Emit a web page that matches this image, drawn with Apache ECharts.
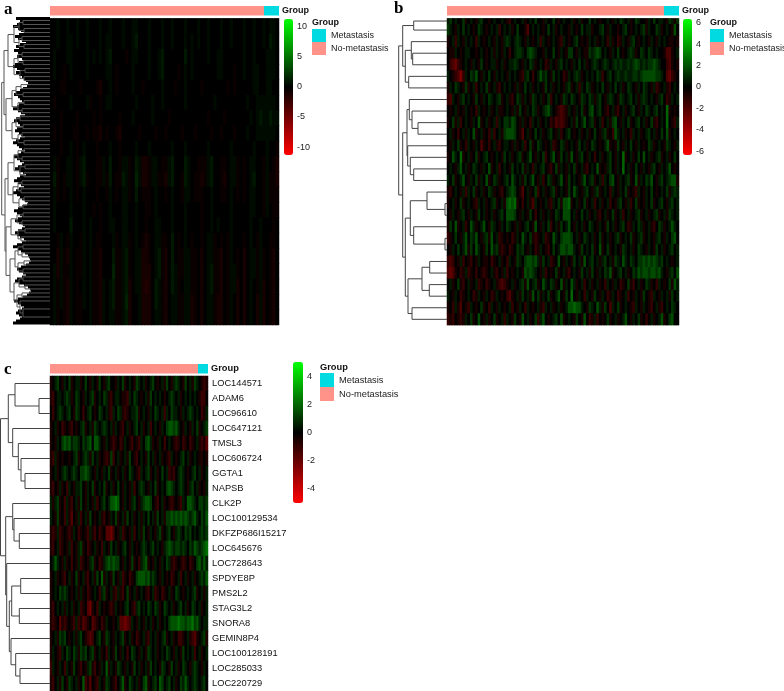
<!DOCTYPE html>
<html><head><meta charset="utf-8">
<style>html,body{margin:0;padding:0;background:#fff}#c{width:784px;height:691px}</style>
<script src="https://cdn.jsdelivr.net/npm/echarts@6/dist/echarts.min.js"></script>
</head><body><div id="c"></div>
<script>
// ---------- sample groups ----------
const groupNames=['Metastasis','No-metastasis'];
const groupColors=['#00DAE0','#FF9289'];
const groupCountsA=[15,214];
const groupCountsB=[15,217];
const groupCountsC=[10,148];
// ---------- colour bar ticks ----------
const ticksA=[10,5,0,-5,-10];
const ticksB=[6,4,2,0,-2,-4,-6];
const ticksC=[4,2,0,-2,-4];
// ---------- panel c row names ----------
const rowNamesC=['LOC144571','ADAM6','LOC96610','LOC647121','TMSL3','LOC606724','GGTA1','NAPSB','CLK2P','LOC100129534','DKFZP686I15217','LOC645676','LOC728643','SPDYE8P','PMS2L2','STAG3L2','SNORA8','GEMIN8P4','LOC100128191','LOC285033','LOC220729'];
// cell values below are estimated by eye and stored in steps of this many expression units
const stepA=0.5, stepB=0.62, stepC=0.55;
// ---------- panel a heat (rows x sampled columns, estimated) ----------
const heatA=[
[0,0,1,0,0,1,0,0,1,0,0,1,0,0,0,1,0,0,1,0,0,0,1,0,0,1,1,0,0,0,1,0,0,0,1,0,0,1,0,0,0,1,0,0,0,1,0,0,1,0,0,0,1,0,0,1,0,0,0,1,0,0,1,0,0,1,0,1,1,0],
[0,0,1,0,0,1,1,0,1,0,0,1,0,0,0,1,0,1,1,0,0,0,1,0,0,1,2,0,0,0,1,0,0,0,1,0,0,1,0,0,0,1,0,1,0,1,0,0,1,0,0,0,1,0,0,1,0,0,0,1,0,0,1,0,0,1,0,2,1,0],
[0,1,0,0,0,1,1,0,0,0,0,1,0,1,0,1,0,1,2,0,0,0,0,-1,0,1,1,0,0,0,1,0,0,1,2,0,0,0,0,0,0,2,0,1,0,0,0,0,1,0,0,1,1,0,0,0,0,0,0,1,0,0,1,0,0,0,1,1,1,0],
[0,1,0,0,-1,0,1,0,0,0,0,1,0,0,0,0,0,1,1,0,-1,0,0,0,0,1,0,0,0,0,1,0,0,1,2,0,0,0,0,-1,0,1,0,1,0,0,0,0,0,0,0,1,1,0,0,0,-1,0,0,1,0,0,1,1,0,0,1,1,1,0],
[0,0,0,-1,-1,0,0,0,0,-1,0,0,0,0,-1,-2,0,0,1,0,-1,0,0,0,0,1,0,0,-1,0,0,0,0,0,1,0,0,0,-1,0,0,1,0,0,0,0,-1,0,0,0,0,0,0,0,-1,0,-1,0,0,0,0,0,1,1,0,0,1,1,0,0],
[0,-1,0,0,0,0,1,0,0,0,0,1,-1,0,0,-1,0,1,1,0,0,0,0,0,0,0,1,0,0,0,0,1,0,0,1,0,0,0,0,0,0,1,0,0,0,0,0,0,0,0,1,0,0,0,0,0,0,0,0,0,1,0,0,1,1,1,1,1,1,0],
[0,0,0,-1,0,0,0,0,-1,0,0,0,0,-1,0,-1,0,0,0,0,0,-1,0,0,0,1,0,0,0,0,0,1,0,0,0,0,-1,0,0,0,0,0,0,0,0,0,0,0,-1,0,0,0,0,-1,0,0,0,0,0,0,0,1,0,1,2,1,1,2,1,1,1,0],
[0,-1,0,-1,0,0,0,-1,-1,0,0,-1,0,-1,-1,-2,0,-1,0,0,-1,-2,0,0,0,0,0,-1,0,0,0,0,-1,0,0,-1,0,0,0,0,-1,0,0,0,-1,0,0,0,0,-1,0,0,-1,0,0,0,-1,0,0,0,1,0,0,1,1,1,1,1,1,0],
[0,0,0,-1,0,0,1,0,-1,0,1,0,0,0,-1,0,0,0,1,0,0,-1,0,0,0,0,1,0,0,0,1,0,0,0,0,0,0,1,0,0,0,1,0,0,0,0,0,0,1,0,0,0,0,0,0,1,0,0,0,0,0,0,1,0,0,0,1,0,0,-1],
[0,1,-1,0,0,1,1,0,-1,1,2,0,0,0,-1,-1,1,0,2,0,0,-1,1,1,-1,0,2,1,-2,-2,-1,1,1,0,-1,-1,1,2,0,0,0,2,1,0,0,-1,-1,-1,1,2,0,0,-1,-1,0,1,1,-1,0,-1,0,1,1,0,0,-1,1,0,-1,-2],
[0,2,-1,0,-1,1,1,0,-1,1,2,-1,0,0,-1,-1,1,-1,2,0,-1,-1,2,1,-1,0,3,1,-2,-2,-1,1,1,-1,-1,-2,1,2,0,0,-1,2,1,0,-1,-1,-2,-1,1,2,0,0,-1,-2,0,1,1,-1,0,-1,0,1,2,0,0,-1,1,-1,-1,-2],
[0,1,-1,0,-1,0,1,0,-1,0,1,0,0,0,-1,0,0,-1,1,0,-1,0,1,1,-1,0,2,0,-1,-1,-1,0,1,0,0,-1,0,1,0,0,-1,1,1,0,-1,-1,-1,0,0,1,0,0,-1,-1,0,1,0,-1,0,-1,0,1,1,0,0,-1,1,-1,-1,-1],
[0,1,0,0,0,0,1,0,0,0,1,0,0,-1,0,-1,0,0,1,0,0,0,1,1,0,0,1,0,0,-1,-1,0,1,0,0,0,0,1,0,0,0,1,0,0,0,0,-1,0,0,1,0,0,0,0,0,1,0,0,0,0,0,1,1,0,0,-1,1,0,-1,-1],
[0,1,0,0,0,0,2,0,0,0,1,0,1,0,0,-1,0,0,1,1,0,0,1,1,0,0,1,0,0,-1,0,0,1,1,0,0,0,1,0,0,0,1,0,0,0,0,-1,0,0,1,0,1,0,0,0,1,0,0,0,0,0,1,0,0,1,0,0,0,-1,0],
[0,0,-1,1,0,-1,1,0,0,-1,1,0,1,0,-1,-1,0,0,0,1,-1,0,1,1,-1,0,1,0,-1,-2,-1,0,1,1,-1,-1,0,2,0,-1,0,1,0,-1,0,0,-1,0,1,1,-1,0,-1,0,-1,1,0,0,0,-1,0,1,0,-1,1,0,0,-1,-1,0],
[0,0,-2,1,-1,-2,1,0,-1,-1,1,0,1,-1,-1,-2,0,0,0,2,-1,-1,1,2,-1,0,1,1,-2,-2,-1,0,1,2,-1,-2,0,2,0,-1,-1,1,1,-1,-1,0,-2,0,1,1,-1,-1,-2,0,-1,1,0,-1,0,-2,0,1,1,-1,1,-1,0,-1,-2,0],
[0,1,-2,1,-1,-1,1,0,-1,-1,1,0,1,-1,-1,-2,0,0,0,3,-1,-1,1,2,-1,0,1,1,-2,-2,-2,0,1,2,-1,-2,0,2,1,-1,-1,1,1,-1,-1,0,-2,0,1,2,-1,-1,-2,0,-1,1,1,-1,0,-2,0,1,1,-1,1,-1,0,-1,-2,0],
[0,1,-1,1,-1,-2,1,0,-1,0,1,0,1,-1,-1,-2,1,0,1,2,-1,-1,1,2,-2,0,1,1,-2,-3,-2,0,2,1,-1,-2,0,2,1,-1,0,1,1,-1,-1,0,-2,0,1,2,-1,-1,-2,0,-1,1,1,-2,0,-2,0,1,0,-1,1,-2,0,-1,-2,0],
[0,1,-1,1,-1,-2,1,0,-1,-1,1,0,1,-1,-1,-2,1,0,1,2,-1,-1,1,3,-2,0,0,1,-2,-2,-2,0,2,1,-1,-2,0,1,1,-1,-1,1,1,-2,-1,0,-2,0,1,1,-1,-2,-2,0,-1,1,0,-2,0,-2,0,1,0,-2,1,-2,0,-1,-2,0],
[0,1,-1,0,-1,-2,1,0,-1,-1,0,0,1,-1,-1,-2,1,0,1,1,-1,-1,1,2,-2,0,0,1,-2,-2,-2,0,1,1,-1,-2,0,1,1,-1,-1,1,1,-2,-1,0,-2,0,1,1,-1,-2,-2,0,-1,1,0,-2,0,-2,0,1,0,-2,1,-2,0,-1,-2,0]
];
// ---------- panel b heat (first row is the thin sliver at the top, estimated) ----------
const heatB0=[
[1,2,0,1,0,0,2,-1,0,1,0,-1,1,2,0,0,-1,0,1,0,0,1,0,-1,-2,0,1,0,0,1,-1,0,1,0,2,0,0,-1,1,0,0,2,0,-1,0,1,0,0,1,-1,0,1,-1,0,0,2,0,1,0,-1,0,0,1,0,-1,1,0,2,1,0,1,-1,0,2,1,0,0,-1,1,0,2,0,1,1,0,-1,2,1,-1,2]
];
const heatB=[
[2,1,0,-1,1,0,2,0,1,0,-1,0,2,1,0,-1,0,1,0,1,-2,0,1,0,1,-1,0,2,0,0,-1,-3,0,1,0,1,0,-1,0,2,0,1,-1,0,1,0,0,-1,1,0,-1,0,2,0,1,1,-1,0,0,1,2,0,-1,1,0,0,-1,0,1,2,0,-1,0,1,0,1,2,-1,1,0,0,2,1,-1,0,1,0,-1,3,0],
[-1,0,1,-2,1,0,-1,1,0,1,0,-2,1,0,-1,0,1,0,-1,1,0,-1,1,2,1,0,1,2,1,0,-1,1,0,-1,0,1,-2,1,0,-1,0,1,0,-1,-2,1,0,-1,0,1,2,0,-1,0,-1,1,0,1,-1,0,1,0,-2,1,-1,0,-2,-1,1,0,-1,1,2,0,-1,0,1,0,-1,1,0,-1,1,0,1,0,-1,-1,0,-1],
[0,-1,-1,1,0,-1,0,1,1,0,0,-1,0,1,0,-1,0,1,-1,1,0,-1,1,0,-2,0,1,2,2,1,0,2,3,2,1,0,0,-1,1,0,0,2,0,-1,1,0,-1,2,2,0,-1,1,0,-1,-1,2,1,2,3,2,0,1,0,-1,1,0,2,0,-1,0,1,2,1,-1,0,2,1,0,2,1,0,1,0,0,-1,-3,-3,-1,0,1],
[0,-2,-3,-4,-2,-1,0,1,0,-1,1,0,-1,2,0,-1,0,1,1,-1,0,1,-1,0,1,1,2,1,0,-1,1,0,2,1,-1,0,1,0,-2,-1,1,0,-1,1,2,0,1,0,-1,1,0,2,0,1,-1,0,1,2,1,0,1,2,1,0,1,2,1,2,1,1,2,1,2,3,2,1,2,1,2,2,3,2,1,0,0,-2,-3,-1,0,-1],
[1,0,-1,-2,-3,-5,-2,1,0,2,1,3,0,-1,1,0,2,0,-1,1,0,1,0,-1,1,0,1,0,-1,-2,1,2,0,-2,0,1,3,1,2,0,-1,2,0,1,0,-2,-1,1,0,1,2,1,-1,0,1,0,1,0,2,1,-2,0,1,2,0,1,2,1,1,2,1,1,2,2,1,2,3,3,3,3,3,2,2,1,0,-3,-4,-2,-1,0],
[-1,1,0,2,1,0,-1,2,-1,0,1,-2,0,1,0,2,-1,0,1,-1,-2,0,1,0,1,0,-1,1,-1,0,2,0,1,-1,0,1,0,-1,2,0,1,-1,0,1,0,-1,1,2,-1,0,1,-2,1,0,2,1,-1,0,1,0,2,0,-1,1,0,2,0,1,-1,0,2,1,0,-1,1,0,2,1,0,-1,1,-2,-1,0,1,-1,-2,0,1,0],
[-2,-3,1,0,-1,1,2,0,1,0,-1,2,0,-1,1,0,2,1,0,1,2,-1,0,1,-1,-2,0,2,1,-1,1,0,-1,2,1,0,1,-1,0,2,-2,0,1,0,-1,2,1,0,2,1,0,-1,2,1,0,2,1,-1,1,2,0,-1,1,2,1,0,-1,2,1,0,1,2,0,1,-1,1,2,1,0,1,0,-1,1,2,0,-2,-1,1,0,1],
[0,-1,0,1,-1,0,-1,1,0,-1,0,-2,1,0,-1,0,1,-1,0,1,-1,-1,0,1,0,-1,1,-1,2,0,-1,1,0,2,1,-1,0,1,2,3,1,0,-1,-2,-3,-2,-1,1,0,-1,1,0,2,-1,0,2,3,0,1,2,0,-1,-2,0,1,-1,-2,0,1,-1,0,1,2,0,-1,1,0,2,1,0,1,2,0,1,0,4,-1,0,-1,0],
[-1,0,2,-1,1,-2,0,1,0,-1,1,0,3,-1,0,1,-1,0,1,-2,1,0,2,2,1,3,2,0,-1,1,-1,0,-2,1,0,1,-1,0,1,0,-2,-1,-3,-2,-3,-2,-1,0,1,-1,2,0,1,3,0,1,2,-1,0,1,-2,0,1,-1,2,3,0,-1,1,0,2,-1,0,1,2,0,1,-1,0,2,-1,-2,0,1,0,4,0,-1,-2,1],
[0,1,-1,0,-2,0,1,-1,1,0,3,-1,0,1,-1,0,-2,1,-2,0,1,-1,2,3,3,3,2,0,-1,-3,0,1,-1,0,2,0,1,-1,0,1,2,0,-1,1,-2,0,1,2,0,-1,0,1,-1,0,1,-1,0,2,0,-1,1,2,-1,0,-2,3,1,0,1,-1,0,-2,1,0,1,-1,0,1,2,0,1,-1,0,2,0,3,-1,0,1,0],
[0,-1,1,0,2,-1,0,-2,1,0,-1,1,0,-3,-1,0,-2,0,1,-1,-2,0,1,1,0,-1,1,-1,0,1,-2,0,2,-1,0,2,1,0,-1,0,1,-2,-1,0,2,1,-1,0,1,0,-1,2,0,1,-1,0,2,1,0,-1,0,1,3,-1,0,-1,2,0,-1,1,0,2,0,-1,1,0,-1,0,2,1,-1,0,1,0,-1,2,1,0,-1,1],
[-1,0,3,1,0,4,-1,0,1,-1,0,2,-1,0,1,2,0,-1,0,1,0,-1,2,0,1,-1,0,1,2,-1,0,1,3,0,-1,1,0,2,-2,0,1,3,0,-1,2,0,1,-1,3,0,-1,1,2,0,-1,1,0,-2,0,1,-1,0,1,2,0,-1,1,0,4,-1,0,1,-1,0,2,0,3,0,1,-1,0,1,2,-1,0,1,-1,0,2,0],
[0,1,0,-1,1,3,0,1,-1,0,2,1,0,-1,1,0,3,-1,0,1,-2,0,1,0,-1,2,0,1,0,2,-1,1,0,-2,1,0,1,2,0,-1,-2,0,2,-1,1,0,-1,1,0,2,-1,0,1,-1,-2,0,1,0,3,-1,0,-1,1,2,0,-1,1,0,4,0,1,-1,0,2,0,-1,1,0,-1,1,2,0,-1,1,0,1,3,0,-1,0],
[1,0,2,-1,0,1,3,0,-1,1,0,2,-1,1,0,3,-1,0,2,1,-1,0,1,2,0,3,1,0,1,-1,2,0,1,3,0,-1,1,-2,0,2,1,-1,0,1,3,0,-1,2,0,1,0,-1,1,3,0,1,2,-1,0,1,-2,1,0,2,3,0,-1,1,0,1,2,-1,0,3,-1,1,0,2,1,3,0,-1,1,2,0,1,2,3,3,-1],
[-1,-2,0,1,0,-1,1,-2,1,0,2,-1,0,1,-1,0,2,1,-1,0,-1,-2,0,1,2,3,2,0,-1,-3,0,1,-1,0,2,-2,0,1,-1,0,1,2,-1,0,1,0,-1,2,0,3,1,0,-1,1,2,0,-1,1,2,-1,0,1,0,-2,1,0,-1,1,0,2,-1,0,-1,-2,1,0,-1,1,0,2,0,-1,0,1,0,2,-1,1,2,1],
[-1,0,1,-1,0,2,-1,0,1,0,-1,-2,1,0,1,-1,0,1,2,-1,0,1,-1,3,4,3,4,-1,0,-2,0,1,-1,-3,1,0,-1,0,1,-1,-2,1,0,2,-1,3,3,4,-1,0,1,-1,0,2,-1,0,1,-2,0,1,-1,0,1,-2,0,-1,1,2,0,-1,1,-2,0,2,-1,0,-1,1,0,2,-1,0,1,2,0,-1,1,2,0,1],
[0,-1,1,0,-1,1,2,0,-1,1,0,-1,2,0,1,-1,0,1,-1,0,1,2,0,3,3,3,2,0,-1,1,0,-1,2,0,-2,0,1,-1,0,1,-1,0,2,1,0,3,3,3,0,1,-1,0,2,0,1,-1,0,1,-1,-2,0,1,-1,0,2,-1,0,1,-2,0,1,-1,0,1,2,-1,0,1,-1,0,1,2,-1,0,1,-1,2,1,0,1],
[-1,2,0,3,-1,0,1,-2,0,3,1,-1,0,1,3,0,-1,2,1,0,-1,1,0,2,1,0,-1,1,-1,0,1,2,0,-1,3,0,-1,1,0,2,-2,0,1,-1,2,0,1,3,0,-1,1,0,1,-1,0,2,1,0,-1,1,0,-1,2,0,1,-1,0,1,2,0,-2,-1,1,0,2,1,-1,0,1,-1,-2,0,2,1,-1,0,1,3,1,0],
[-2,-1,0,2,0,-1,1,3,0,2,1,3,0,-1,1,2,-1,3,0,1,-2,-1,0,-1,0,-2,-1,1,0,3,1,0,2,-1,-2,-1,0,1,-2,-1,0,3,1,0,2,3,3,3,2,0,1,-1,0,2,1,0,1,-1,0,2,-1,0,1,-1,0,1,2,-1,0,1,0,2,-1,0,1,2,-1,0,1,0,-1,1,2,0,-1,1,0,2,3,0],
[0,-1,1,0,2,0,1,3,-1,2,0,3,1,0,-1,2,0,3,1,2,-1,-2,-1,0,-2,-1,0,2,1,2,0,-1,1,0,-2,-1,1,0,-1,-2,0,2,0,1,3,3,2,3,3,1,0,-1,2,0,1,0,2,-1,0,3,-1,0,2,-1,0,1,0,-1,2,1,0,1,-1,0,2,1,0,-1,1,0,-1,2,0,1,-1,0,1,2,0,1],
[-2,-3,-2,0,-1,1,-2,0,-1,-2,0,-1,1,0,-1,-1,0,-2,-1,0,1,-1,0,-2,1,0,-1,2,1,0,2,3,3,2,3,1,-1,2,0,1,-2,-1,0,3,0,-1,1,0,-1,2,0,1,-1,3,0,1,2,0,1,-1,1,2,0,1,-1,2,1,0,3,1,0,2,1,0,2,2,3,2,3,2,3,2,1,2,0,1,0,-1,0,1],
[-3,-4,-3,-1,0,-2,-1,1,-2,-1,0,-2,0,-1,-2,-1,0,1,-1,-2,0,-1,1,-2,0,-1,0,1,0,-1,3,2,3,2,1,0,-1,1,-2,0,-1,0,2,-1,0,1,-1,-2,0,1,0,-1,2,0,1,-1,2,0,-1,1,0,2,1,3,-1,0,1,2,0,1,-1,0,2,1,3,2,3,3,2,3,3,2,3,1,0,-1,1,2,0,3],
[0,1,-1,0,2,-1,-2,0,1,-1,0,1,-2,-1,0,-2,-1,0,1,-1,-2,-3,-2,-1,0,1,-1,0,1,2,-1,3,0,1,2,-1,0,3,1,0,2,1,-1,0,3,-1,1,0,3,1,-1,0,1,-2,0,1,-1,0,1,-1,0,-2,1,0,-1,1,0,-2,-1,0,2,-1,-2,0,1,-1,0,2,1,-1,0,-2,1,0,-1,0,2,-1,3,1],
[1,0,-1,1,0,-2,-1,0,1,0,-2,-1,1,0,-1,1,0,-2,-1,1,0,-1,0,-2,-3,-1,0,1,-1,2,0,1,-1,3,0,2,-1,1,0,2,-1,0,1,3,0,-1,2,0,4,0,-1,1,0,-2,1,0,-1,2,0,-1,1,0,-2,-1,1,0,-2,-1,0,1,-2,0,-1,1,0,-1,2,0,-1,-2,1,0,-1,1,0,1,-1,2,0,1],
[-1,0,-2,1,-1,-3,0,-1,-2,1,0,-1,0,2,-1,0,-2,1,0,-1,1,0,-1,0,1,-2,0,-1,1,0,-2,1,0,-1,0,1,-1,-2,1,0,1,-1,0,1,-1,0,1,3,3,4,3,3,1,0,-1,2,1,0,3,1,-1,2,0,-3,1,0,2,-1,0,1,0,-1,-2,1,0,-1,1,0,-1,-2,0,1,-1,-2,0,1,0,2,1,0],
[-2,-1,-2,0,-1,-2,-1,1,0,2,-1,0,3,0,-1,1,-1,0,2,-1,0,1,-2,1,0,-1,2,0,-1,3,0,1,-1,0,2,-2,1,3,0,-1,0,1,2,0,3,-1,0,1,0,-1,2,0,-1,3,0,-2,-1,1,-2,0,-1,0,2,-1,0,1,-1,0,1,3,0,-1,1,0,2,-1,0,-2,0,1,-1,0,1,3,-1,0,2,3,0,0]
];
// ---------- panel c heat (estimated) ----------
const heatC=[
[-1,0,1,2,0,-1,1,0,2,-1,0,1,1,-1,0,2,0,-1,1,0,-1,2,0,-1,1,2,0,0,-1,1,0,2,-1,0,1,0,-1,2,1,0,1,-1,0,1,2,0,-1,0,1,-1,2,0,-1,1,2,1,0,-1,2,0,1,-1,2,1,0,-1,-2,-1],
[-1,-2,0,1,1,0,1,2,1,-1,0,2,1,0,-1,1,0,1,2,-1,0,1,0,2,1,-1,-2,0,1,1,0,-1,-1,-2,1,0,2,1,0,-1,0,1,-1,2,0,1,0,1,0,-1,0,1,2,1,0,1,-1,0,1,0,1,0,1,0,-1,-2,-2,0],
[0,-2,0,1,2,1,0,1,2,0,-1,2,1,0,-2,0,1,2,0,-1,0,2,1,0,1,-1,-2,1,0,2,1,-1,-2,-1,0,1,1,2,-1,0,1,0,-1,1,0,2,1,0,1,-2,1,0,2,1,1,0,-1,1,0,1,2,1,0,1,0,-2,-1,1],
[-1,0,1,-1,0,-2,-1,0,-1,-2,0,-1,0,1,2,-1,0,1,-1,2,1,0,1,2,1,0,1,-1,1,0,-1,-2,0,1,-1,0,1,2,0,1,-1,0,1,-2,0,1,0,-1,1,0,2,3,3,2,3,1,0,-1,1,0,-1,1,0,2,-1,0,1,2],
[-1,0,-1,1,0,2,3,2,3,1,2,2,1,0,2,1,2,3,0,3,3,1,0,-1,1,0,-1,-2,-1,0,-2,-1,1,0,-1,-2,0,-1,-2,1,0,2,3,1,-1,0,-1,1,0,-2,0,1,0,-1,-2,-1,0,-2,-1,0,-2,-1,0,1,-1,-2,-1,-3],
[-1,-2,1,-1,0,-1,0,0,-1,0,1,2,-1,0,1,2,1,-1,2,0,1,-1,0,-1,-2,-1,2,-2,0,1,-1,0,1,-1,2,0,-1,-2,0,1,0,-1,2,0,1,-1,0,1,-1,0,-1,-2,1,0,-1,0,1,2,0,1,-1,0,1,0,-1,-1,0,-1],
[-1,0,1,-1,0,1,2,1,0,1,2,1,0,2,2,3,2,1,0,-1,1,0,-1,1,0,2,-1,0,1,-1,0,1,-1,0,2,1,0,-1,-2,1,0,1,2,-1,0,1,-1,0,2,0,1,-2,-1,-2,0,1,2,1,0,-1,0,1,2,0,1,-1,0,1],
[-1,-2,0,-1,1,-1,0,-2,1,0,-1,1,1,2,0,-1,1,0,2,-1,0,1,0,2,-1,0,1,-1,0,2,0,-1,1,0,-1,1,-2,0,1,2,1,0,-1,1,0,2,-1,0,1,0,2,3,2,1,0,1,2,1,0,-1,1,2,0,1,-1,0,-1,1],
[1,-1,1,2,-1,0,-2,1,-1,-2,0,1,-1,2,0,-1,1,0,-1,1,-2,0,1,2,0,1,3,3,4,3,0,-1,1,0,-1,1,2,0,-1,1,2,3,3,2,0,-1,-2,0,1,-1,0,-1,-2,-1,0,-1,-2,1,0,3,3,2,1,0,2,2,1,2],
[1,0,-1,2,-1,0,-2,1,-1,-3,0,-1,1,-2,0,1,-1,2,0,-1,0,1,-1,-2,0,-1,1,0,2,-1,0,1,-1,2,0,1,-1,0,1,-1,1,0,2,0,1,-1,2,0,1,-1,2,2,3,2,3,2,3,2,3,2,1,2,3,1,0,2,1,3],
[-1,-2,-1,1,-2,-1,0,-1,-2,-1,1,0,-2,-1,0,-1,-2,1,-1,-2,0,-2,-1,0,-3,-3,-4,-2,0,-1,1,-2,-1,0,-1,1,-2,0,1,-1,2,0,-1,1,0,-1,1,2,-1,0,1,2,0,-1,1,2,1,0,2,1,2,0,1,0,1,2,1,2],
[-1,-2,0,1,-2,-1,0,-1,1,-2,0,-1,1,2,-1,0,-2,-1,0,1,-1,0,-2,1,0,-1,2,0,1,-1,0,1,2,0,-1,1,0,-1,0,1,2,1,0,1,2,0,1,0,-1,1,2,3,2,1,2,2,1,2,1,0,2,1,3,2,1,2,3,4],
[0,1,3,1,0,-1,1,-1,0,-2,0,-1,1,-2,-1,0,-1,1,2,-1,0,-2,-1,1,2,3,2,3,2,2,0,-1,1,0,-1,2,-1,0,-2,1,2,3,-1,0,-1,1,0,-1,1,0,2,1,-1,-2,-1,0,-1,-2,-1,0,-2,-1,0,2,3,1,3,1],
[-1,0,1,-1,0,-1,-2,0,1,-1,0,2,-1,0,1,-1,-2,0,1,-1,2,0,3,-1,1,0,-1,2,0,-1,1,-2,-1,0,-2,-1,0,2,3,3,3,2,3,1,2,1,0,-1,1,0,-1,0,-2,-1,0,1,-2,0,1,-1,0,1,-1,0,1,2,1,3],
[-1,0,1,0,2,1,2,1,0,-1,0,1,-1,1,-1,0,-2,-1,0,1,0,-2,1,2,-1,0,1,-1,-2,1,-1,-2,0,2,-1,0,1,-1,0,1,0,-1,-2,0,1,-2,-1,0,-2,-1,0,1,-1,0,2,1,0,-1,0,1,0,1,2,-1,0,1,-1,1],
[-1,-2,0,1,0,1,-1,1,0,1,-1,0,1,-2,-1,0,-3,-4,-1,0,-2,1,0,-1,0,-1,-2,-1,1,0,-1,0,1,2,0,-1,-2,1,2,0,1,0,2,1,0,2,1,-1,0,2,1,0,1,-1,0,1,2,0,1,-1,0,2,1,0,1,-1,0,1],
[-1,-2,-1,0,-3,-1,-2,-1,0,-1,-2,1,-2,-1,-3,-2,-1,0,-3,-2,-1,0,-2,-1,1,0,0,-1,0,1,-3,-3,-4,-3,-2,1,0,-1,1,0,-1,1,0,1,-1,0,1,-1,0,1,0,2,3,3,3,4,3,3,2,3,3,4,2,3,1,0,1,1],
[-1,0,1,-1,2,1,2,0,-1,0,1,-1,1,2,0,-1,-2,-3,-2,0,1,2,0,-1,2,1,0,-1,1,0,1,2,-1,0,1,-1,0,-2,-1,0,1,-1,-2,1,0,1,-1,0,1,2,-1,0,1,-1,0,-2,-2,-1,0,1,-1,-2,-3,-1,0,1,2,-1],
[-1,1,0,-1,-2,1,0,2,1,0,2,1,-1,2,1,2,0,1,2,-1,0,1,-1,0,-2,1,0,-1,2,0,-1,1,0,-2,0,2,1,0,-1,1,0,-1,2,1,0,1,-1,0,1,0,2,1,0,-1,1,0,-1,2,0,1,0,1,-2,0,1,-1,0,1],
[-2,1,0,-1,1,0,-2,1,0,-1,2,0,-1,-2,0,-1,1,2,-1,-2,0,-1,1,0,3,-1,1,0,-1,2,1,0,-1,1,0,-1,2,0,1,-1,0,1,-1,2,0,1,0,-1,2,1,0,-1,2,0,1,-1,0,2,1,0,-1,1,2,1,0,-1,1,0],
[-1,-2,0,1,-1,2,0,-1,2,1,0,1,-1,0,3,-2,-1,-3,0,-1,-2,1,0,-1,2,1,0,-1,-2,0,1,3,-1,0,2,1,0,1,-1,0,2,3,-1,0,1,2,0,3,2,0,1,2,0,1,-1,0,2,1,3,1,0,1,2,1,0,1,2,0]
];
// ---------- dendrograms: [height, childA, childB]; a bare number is a leaf row ----------
const treeB=[48.3,
 [44.3,[33.3,0.22,1],[41.7,[35.7,2,[34.3,3,4]],[38.3,5,6]]],
 [44.3,
  [40,[37.7,7,[35,8,[29,9,10]]],[39.3,11,[36.7,12,[33.3,13,14]]]],
  [41.7,
   [36.7,[20,15,[2,16,17]],[33.3,18,[2,19,20]]],
   [39,[25,[17.3,21,22],[17.7,23,24]],[35,25,26]]]]];
const treeC=[49.5,
 [41.7,[35,0,[11,1,2]],[37.3,3,[31.7,4,[29,5,[25,6,7]]]]],
 [44.3,[37.3,8,[36,9,[30.7,10,11]]],
  [43.3,12,[40.7,[38.3,[29.3,13,14],[30.7,15,16]],[39,17,[34.3,18,[30,19,20]]]]]]];
const treeA=[48.3,
 [46,
  [42,[36,[31,[27,1,3],[26,5,7]],[31,[28,9,11],[26,13,15]]],[36,[32,[28,17,19],[27,21,23]],[30,[25,25,27],[26,29,31]]]],
  [44,[38,[34,[29,33,35],[27,37,39]],[32,[26,41,43],[28,45,47]]],[38,[34,[30,49,51],[27,53,55]],[32,[28,57,59],[26,61,63]]]]],
 [45,
  [42,[36,[32,[26,65,67],[28,69,71]],[30,[25,73,75],[26,77,79]]],[37,[32,[28,81,83],[29,85,87]],[31,[26,89,91],[27,93,95]]]],
  [44,[39,[33,[27,97,99],[28,101,103]],[32,[25,105,107],[29,109,111]]],[40,[35,[32,[27,113,115],[28,117,119]],[32,[26,121,123],[27,125,127]]],[36,[31,[27,129,131],[25,133,135]],[33,[28,137,139],[30,141,[27,145,149]]]]]]]];
// each 2px row of panel a's dense dendrogram: height where its leaf line begins
const leafHeightsA=[34,30,28,33,37,32,29,26,31,35,32,28,24,30,34,31,36,32,29,33,28,25,31,35,37,33,30,34,31,28,26,24,22,21,23,27,30,34,36,32,30,28,26,31,33,37,32,29,25,30,34,36,32,30,28,33,35,31,29,25,30,34,37,33,31,28,25,29,32,36,33,30,26,28,32,35,31,27,24,30,33,36,32,29,26,31,34,37,33,30,28,25,22,23,28,32,36,33,30,28,32,35,31,27,25,28,32,35,33,30,26,24,28,33,37,32,29,25,22,21,20,19,21,24,29,33,31,27,24,28,33,35,31,26,22,20,19,21,23,27,32,36,32,29,26,28,32,34,31,28,30,34,37];

// ---------- builders ----------
const FONT='Liberation Sans';
const grid=[],xAxis=[],yAxis=[],series=[];
function addGrid(r,x,y){const i=grid.length;
  grid.push({left:r[0],top:r[1],width:r[2],height:r[3],show:!!r[4],backgroundColor:r[4]||'transparent',borderWidth:0,containLabel:false});
  xAxis.push(Object.assign({gridIndex:i},x));yAxis.push(Object.assign({gridIndex:i},y));return i;}
const hidden={show:false};
function addAnnot(r,counts,fs){
  const i=addGrid(r,{type:'value',min:0,max:counts[0]+counts[1],show:false},
   {type:'category',data:['Group'],position:'right',axisLine:hidden,axisTick:hidden,splitLine:hidden,
    axisLabel:{margin:3,fontFamily:FONT,fontWeight:'bold',fontSize:fs,color:'#111'}});
  [1,0].forEach(k=>series.push({type:'bar',name:groupNames[k],stack:'g'+i,xAxisIndex:i,yAxisIndex:i,barWidth:'100%',silent:true,
    data:[counts[k]],itemStyle:{color:groupColors[k]}}));
}
function addHeat(r,rows,step,labels,fs){
  const i=addGrid(r.concat(['#000']),{type:'category',data:rows[0].map((_,c)=>c),show:false},
   labels?{type:'category',data:labels,inverse:true,position:'right',axisLine:hidden,axisTick:hidden,splitLine:hidden,
     axisLabel:{interval:0,margin:4,fontFamily:FONT,fontSize:fs,color:'#111'}}
   :{type:'category',data:rows.map((_,c)=>c),inverse:true,show:false});
  const data=[];rows.forEach((row,y)=>row.forEach((v,x)=>data.push([x,y,v*step])));
  series.push({type:'heatmap',xAxisIndex:i,yAxisIndex:i,data,progressive:0,silent:true,emphasis:{disabled:true},itemStyle:{borderWidth:0}});
  return series.length-1;
}
function flatten(node,out){ // returns [height,position]
  if(typeof node==='number')return [0,node];
  const a=flatten(node[1],out),b=flatten(node[2],out);
  out.push([node[0],a[1],a[0],b[1],b[0]]);
  return [node[0],(a[1]+b[1])/2];
}
function segSeries(i,data,color,lw){return {type:'custom',xAxisIndex:i,yAxisIndex:i,silent:true,clip:false,data,
  encode:{x:[0,2,4],y:[1,3]},
  renderItem(p,api){
    const P=api.value(0),yA=api.value(1),hA=api.value(2),yB=api.value(3),hB=api.value(4);
    const pts=[api.coord([hA,yA]),api.coord([P,yA]),api.coord([P,yB]),api.coord([hB,yB])];
    return {type:'polyline',shape:{points:pts},style:{stroke:color,fill:null,lineWidth:lw}};
  }};}
function addTree(r,tree,hMax,yMin,yMax,leafHeights){
  const i=addGrid(r,{type:'value',min:0,max:hMax,inverse:true,show:false},{type:'value',min:yMin,max:yMax,inverse:true,show:false});
  if(leafHeights)series.push(segSeries(i,leafHeights.map((h,k)=>[h,k,0,k,0]),'#000',3));
  const segs=[];flatten(tree,segs);
  series.push(segSeries(i,segs,leafHeights?'#555':'#444',1));
}
function addTicks(r,lim,ticks){
  addGrid(r,{type:'value',min:0,max:1,show:false},
   {type:'value',min:-lim,max:lim,position:'right',axisLine:hidden,axisTick:hidden,splitLine:hidden,
    axisLabel:{customValues:ticks,margin:4,align:'left',fontFamily:FONT,fontSize:9,color:'#222'}});
}
function vm(seriesIndex,lim,left,top,w,h){return {type:'continuous',seriesIndex,min:-lim,max:lim,left,top,itemWidth:w,itemHeight:h,padding:0,
  calculable:false,hoverLink:false,realtime:false,text:null,inRange:{color:['#ff0000','#000000','#00ff00']}};}
function lg(left,top,w,h,fs){return {left,top,orient:'vertical',itemWidth:w,itemHeight:h,itemGap:0,padding:0,selectedMode:false,
  data:groupNames.map(n=>({name:n,icon:'rect'})),textStyle:{fontFamily:FONT,fontSize:fs,color:'#222'}};}
function ttl(text,left,top){return {text,left,top,padding:0,textStyle:{fontFamily:'Liberation Serif',fontWeight:'bold',fontSize:17,color:'#000'}};}
function gt(left,top,fs){return {text:'Group',left,top,padding:0,textStyle:{fontFamily:FONT,fontWeight:'bold',fontSize:fs,color:'#111'}};}

// panel a
addAnnot([50,6,229,9.5],groupCountsA,9);
const sA=addHeat([50,18.5,229,306.5],heatA,stepA);
addTree([0,18.5,50,306.5],treeA,50,0,153,leafHeightsA);
addTicks([284,19,9,136],11.33,ticksA);
// panel b
addAnnot([447,6,232,9.5],groupCountsB,9);
const sB0=addHeat([447,18.5,232,5.7],heatB0,stepB);
const sB=addHeat([447,24.2,232,300.9],heatB,stepB);
addTree([392,18.5,55,306.6],treeB,55,0,26.5);
addTicks([683,19,9,136],6.33,ticksB);
// panel c
addAnnot([50,364,158,9.5],groupCountsC,9.3);
const sC=addHeat([50,376,158,315],heatC,stepC,rowNamesC,9.3);
addTree([0,376,50,315],treeC,50,-0.5,20.5);
addTicks([293,362,10,141],5,ticksC);

const chart=echarts.init(document.getElementById('c'),null,{renderer:'canvas'});
chart.setOption({animation:false,backgroundColor:'#fff',grid,xAxis,yAxis,series,
  tooltip:{show:false},
  title:[ttl('a',4,1),ttl('b',394,0),ttl('c',4,361),gt(312,18,9),gt(710,18,9),gt(320,363,9.3)],
  legend:[lg(312,29,14,13,9),lg(710,29,14,13,9),lg(320,373,14,14,9.3)],
  visualMap:[vm(sA,11.33,284,19,9,136),vm([sB0,sB],6.33,683,19,9,136),vm(sC,5,293,362,10,141)]
});
</script></body></html>
